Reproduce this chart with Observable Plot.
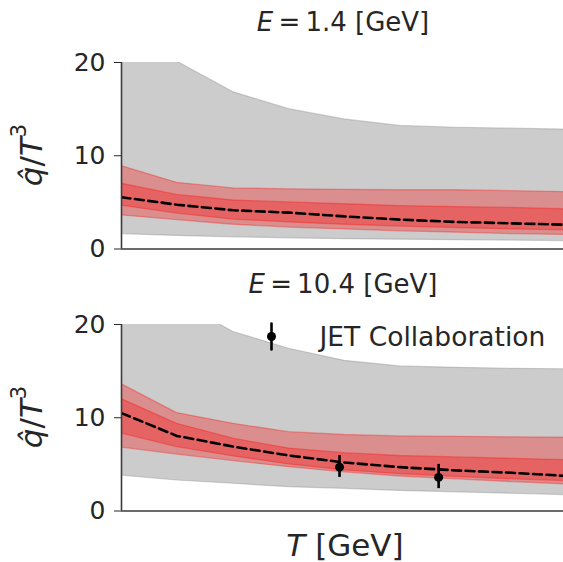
<!DOCTYPE html>
<html><head><meta charset="utf-8">
<script src="https://cdn.jsdelivr.net/npm/d3@7"></script>
<script src="https://cdn.jsdelivr.net/npm/@observablehq/plot@0.6"></script>
<style>
html,body{margin:0;padding:0;background:#fff;overflow:hidden;}
#chart{width:563px;height:562px;position:relative;}
#chart svg{display:block;}
</style></head><body><div id="chart"></div>
<script>
// Temperature grid [GeV]
const T = [0.15, 0.206, 0.263, 0.319, 0.375, 0.431, 0.488, 0.544, 0.6];

// Panel E = 1.4 GeV
const lowGrayLo = [1.6, 1.4, 1.25, 1.15, 1.05, 1.0, 0.95, 0.9, 0.85];
const lowGrayHi = [25, 20.1, 16.8, 15.0, 13.9, 13.2, 13.0, 12.9, 12.8];
const low90Lo   = [3.6, 3.1, 2.6, 2.3, 2.1, 1.9, 1.75, 1.6, 1.5];
const low90Hi   = [8.9, 7.1, 6.5, 6.4, 6.35, 6.3, 6.3, 6.2, 6.1];
const low60Lo   = [4.65, 3.8, 3.15, 2.85, 2.6, 2.4, 2.25, 2.1, 2.0];
const low60Hi   = [7.0, 5.8, 5.2, 5.0, 4.8, 4.6, 4.5, 4.4, 4.25];
const lowMed    = [5.55, 4.75, 4.15, 3.9, 3.5, 3.15, 2.9, 2.75, 2.6];

// Panel E = 10.4 GeV
const highGrayLo = [3.8, 3.27, 2.92, 2.55, 2.38, 2.15, 2.0, 1.85, 1.7];
const highGrayHi = [26, 22.5, 19.2, 17.4, 16.1, 15.5, 15.35, 15.25, 15.2];
const high90Lo   = [6.8, 6.05, 5.35, 4.7, 4.15, 3.7, 3.4, 3.1, 2.85];
const high90Hi   = [13.6, 10.5, 9.35, 8.45, 8.15, 8.0, 7.95, 7.9, 7.85];
const high60Lo   = [8.3, 6.85, 5.85, 5.0, 4.35, 3.95, 3.65, 3.4, 3.2];
const high60Hi   = [12.0, 9.35, 7.75, 6.7, 6.2, 5.9, 5.75, 5.6, 5.45];
const highMed    = [10.5, 8.05, 6.9, 5.95, 5.2, 4.7, 4.35, 4.1, 3.75];

// JET Collaboration
const jetT  = [0.37, 0.47];
const jetQ  = [4.7, 3.6];
const jetLo = [3.6, 2.4];
const jetHi = [5.95, 5.0];

const yTicks = [0, 10, 20];
const titles = ["1.4", "10.4"];
const legendLabel = "JET Collaboration";
const xDomain = [0.15, 0.596];

function rowsOf(gLo, gHi, lo90, hi90, lo60, hi60, med) {
  return T.map((t, i) => ({T: t, gLo: gLo[i], gHi: gHi[i], lo90: lo90[i], hi90: hi90[i], lo60: lo60[i], hi60: hi60[i], med: med[i]}));
}
const lowRows = rowsOf(lowGrayLo, lowGrayHi, low90Lo, low90Hi, low60Lo, low60Hi, lowMed);
const highRows = rowsOf(highGrayLo, highGrayHi, high90Lo, high90Hi, high60Lo, high60Hi, highMed);
const jetRows = jetT.map((t, i) => ({T: t, q: jetQ[i], lo: jetLo[i], hi: jetHi[i]}));

const INK = "#262626";
const SPINE = "#3a3a3a";
const FONT = "DejaVu Sans";

function panel(rows, height, marginBottom, withJet) {
  const marks = [
    Plot.areaY(rows, {x: "T", y1: "gLo", y2: "gHi", fill: "gray", fillOpacity: 0.4, stroke: "gray", strokeOpacity: 0.35, strokeWidth: 1.2, clip: true}),
    Plot.areaY(rows, {x: "T", y1: "lo90", y2: "hi90", fill: "red", fillOpacity: 0.3, stroke: "red", strokeOpacity: 0.3, strokeWidth: 1.3, clip: true}),
    Plot.areaY(rows, {x: "T", y1: "lo60", y2: "hi60", fill: "red", fillOpacity: 0.3, stroke: "red", strokeOpacity: 0.3, strokeWidth: 1.3, clip: true}),
    Plot.line(rows, {x: "T", y: "med", stroke: "black", strokeWidth: 2.6, strokeDasharray: "9,4.5", clip: true})
  ];
  if (withJet) {
    marks.push(
      Plot.ruleX(jetRows, {x: "T", y1: "lo", y2: "hi", stroke: "black", strokeWidth: 2.6}),
      Plot.dot(jetRows, {x: "T", y: "q", r: 4.5, fill: "black", stroke: null}),
      Plot.vector([0], {frameAnchor: "top-left", dx: 150, dy: 12, length: 26, rotate: 0, anchor: "middle", stroke: "black", strokeWidth: 2.6,
        shape: {draw(c, l) { c.moveTo(0, 0); c.lineTo(0, -l); }}}),
      Plot.dot([0], {frameAnchor: "top-left", dx: 150, dy: 12, r: 4.5, fill: "black", stroke: null}),
      Plot.text([legendLabel], {text: d => d, frameAnchor: "top-left", dx: 198, dy: 3, textAnchor: "start", fontSize: 26.5, fill: INK})
    );
  }
  marks.push(
    Plot.ruleX([xDomain[0]], {stroke: SPINE, strokeWidth: 1.6}),
    Plot.ruleY([0], {stroke: SPINE, strokeWidth: 1.6})
  );
  return Plot.plot({
    width: 563, height,
    marginLeft: 121, marginRight: 0, marginTop: 62, marginBottom,
    x: {domain: xDomain, axis: null},
    y: {domain: [0, 20], ticks: yTicks, tickSize: 7, tickPadding: 9, label: null, tickFormat: d => String(d)},
    style: {fontFamily: FONT, fontSize: "25px", color: INK, background: "white", overflow: "visible"},
    marks
  });
}

function addTitle(svg, val) {
  const t = d3.select(svg).append("text")
    .attr("x", 343).attr("y", 22).attr("text-anchor", "middle").attr("dominant-baseline", "central")
    .attr("font-family", FONT).attr("font-size", 26).attr("fill", INK);
  t.append("tspan").attr("font-style", "italic").text("E");
  t.append("tspan").text("\u2009=\u2009" + val + " [GeV]");
}
function addYLabel(svg) {
  const t = d3.select(svg).append("text")
    .attr("transform", "translate(31,155) rotate(-90)").attr("text-anchor", "middle").attr("dominant-baseline", "central")
    .attr("font-family", FONT).attr("font-size", 31).attr("fill", INK);
  t.append("tspan").attr("font-style", "italic").text("q\u0302");
  t.append("tspan").text("/");
  t.append("tspan").attr("font-style", "italic").text("T");
  t.append("tspan").attr("font-size", 21).attr("dy", -12).text("3");
}

const chartEl = document.getElementById("chart");
const topPanel = panel(lowRows, 262, 13.5, false);
addTitle(topPanel, titles[0]); addYLabel(topPanel);
const botPanel = panel(highRows, 300, 51.5, true);
addTitle(botPanel, titles[1]); addYLabel(botPanel);
const xl = d3.select(botPanel).append("text")
  .attr("x", 345).attr("y", 283).attr("text-anchor", "middle").attr("dominant-baseline", "central")
  .attr("font-family", FONT).attr("font-size", 31).attr("fill", INK);
xl.append("tspan").attr("font-style", "italic").text("T");
xl.append("tspan").text(" [GeV]");
chartEl.appendChild(topPanel);
chartEl.appendChild(botPanel);
</script></body></html>
